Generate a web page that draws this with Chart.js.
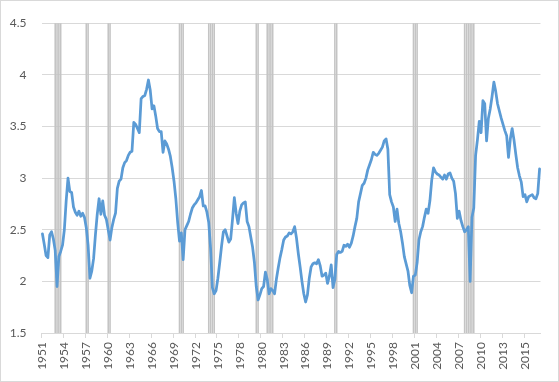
<!DOCTYPE html>
<html>
<head>
<meta charset="utf-8">
<script src="https://cdn.jsdelivr.net/npm/chart.js@4/dist/chart.umd.min.js"></script>
<style>
  html, body { margin: 0; padding: 0; background: #ffffff; }
  #wrap { width: 559px; height: 382px; box-sizing: border-box; border: 1px solid #d9d9d9; background: #fff; }
  canvas { display: block; }
</style>
</head>
<body>
<div id="wrap"><canvas id="c" width="557" height="380"></canvas></div>
<script>
// Tick labels shown every 12 categories
const tickYears = [1951, 1954, 1957, 1960, 1963, 1966, 1969, 1972, 1975, 1978, 1980,
  1983, 1986, 1989, 1992, 1995, 1998, 2001, 2004, 2007, 2010, 2013, 2015];

// Series values (quarterly)
const seriesValues = [
  2.46, 2.36, 2.25, 2.23, 2.45, 2.48, 2.41, 2.30, 1.95, 2.24,
  2.29, 2.35, 2.50, 2.78, 3.00, 2.87, 2.86, 2.72, 2.67, 2.64,
  2.68, 2.63, 2.66, 2.62, 2.52, 2.35, 2.03, 2.10, 2.22, 2.45,
  2.65, 2.80, 2.65, 2.78, 2.64, 2.60, 2.50, 2.40, 2.52, 2.60,
  2.66, 2.90, 2.97, 2.99, 3.10, 3.15, 3.17, 3.22, 3.25, 3.26,
  3.54, 3.52, 3.48, 3.44, 3.77, 3.79, 3.80, 3.86, 3.95, 3.85,
  3.67, 3.70, 3.60, 3.48, 3.45, 3.45, 3.25, 3.36, 3.33, 3.28,
  3.21, 3.10, 2.97, 2.80, 2.57, 2.39, 2.47, 2.21, 2.50, 2.54,
  2.58, 2.65, 2.71, 2.74, 2.76, 2.79, 2.82, 2.88, 2.73, 2.73,
  2.67, 2.57, 2.32, 1.94, 1.88, 1.91, 2.03, 2.18, 2.34, 2.48,
  2.50, 2.44, 2.38, 2.41, 2.60, 2.81, 2.66, 2.56, 2.68, 2.74,
  2.76, 2.77, 2.58, 2.53, 2.43, 2.33, 2.18, 1.95, 1.82, 1.87,
  1.93, 1.95, 2.09, 2.02, 1.88, 1.93, 1.91, 1.88, 2.02, 2.13,
  2.23, 2.31, 2.40, 2.43, 2.44, 2.47, 2.46, 2.48, 2.53, 2.42,
  2.27, 2.14, 2.00, 1.88, 1.80, 1.87, 2.03, 2.14, 2.17, 2.18,
  2.17, 2.21, 2.15, 2.05, 2.06, 2.08, 1.98, 2.05, 2.16, 1.94,
  2.02, 2.26, 2.29, 2.28, 2.29, 2.35, 2.34, 2.36, 2.33, 2.37,
  2.44, 2.53, 2.61, 2.77, 2.85, 2.93, 2.95, 3.00, 3.08, 3.13,
  3.18, 3.25, 3.23, 3.22, 3.24, 3.27, 3.30, 3.36, 3.38, 3.28,
  2.84, 2.77, 2.72, 2.58, 2.70, 2.56, 2.48, 2.37, 2.24, 2.17,
  2.10, 1.96, 1.89, 2.05, 2.06, 2.18, 2.40, 2.48, 2.53, 2.62,
  2.70, 2.66, 2.78, 2.98, 3.10, 3.06, 3.04, 3.03, 3.01, 2.99,
  3.03, 2.99, 3.04, 3.05, 3.00, 2.97, 2.85, 2.61, 2.68, 2.59,
  2.53, 2.48, 2.50, 2.53, 2.00, 2.62, 2.71, 3.22, 3.37, 3.55,
  3.44, 3.75, 3.72, 3.36, 3.58, 3.67, 3.79, 3.93, 3.84, 3.72,
  3.65, 3.58, 3.52, 3.46, 3.41, 3.20, 3.38, 3.48, 3.37, 3.23,
  3.10, 3.02, 2.96, 2.82, 2.84, 2.77, 2.82, 2.83, 2.84, 2.81,
  2.80, 2.85, 3.09
];

// Category positions (quarter index) marked as recession quarters
const recessionQuarters = [
  7, 8, 9, 10,
  24, 25,
  36, 37,
  75, 76, 77,
  91, 92, 93, 94,
  117, 118,
  123, 124, 125, 126,
  160, 161,
  203, 204, 205,
  231, 232, 233, 234, 235, 236
];
const recessionTop = 4.5;

// Derived tables for the library
const categories = seriesValues.map((_, i) => String(tickYears[Math.floor(i / 12)]));
const recSet = new Set(recessionQuarters);
const recessionData = seriesValues.map((_, i) => recSet.has(i) ? recessionTop : null);

const FONT = { family: 'Lato, "Liberation Sans", sans-serif', size: 12 };
const TXT = '#595959';
const GRID = '#d9d9d9';

new Chart(document.getElementById('c'), {
  data: {
    labels: categories,
    datasets: [
      {
        type: 'line',
        data: seriesValues,
        borderColor: '#5B9BD5',
        borderWidth: 2.75,
        pointRadius: 0,
        tension: 0,
        fill: false,
        order: 0,
        borderJoinStyle: 'round',
        borderCapStyle: 'round'
      },
      {
        type: 'bar',
        data: recessionData,
        backgroundColor: '#c4c4c4',
        borderWidth: 0,
        barThickness: 0.9,
        order: 1
      }
    ]
  },
  options: {
    responsive: false,
    animation: false,
    devicePixelRatio: 1,
    layout: { padding: { left: 0, top: 15, right: 15, bottom: 0 } },
    plugins: { legend: { display: false }, tooltip: { enabled: false } },
    scales: {
      x: {
        type: 'category',
        offset: true,
        grid: {
          offset: true,
          drawOnChartArea: false,
          drawTicks: true,
          tickLength: 5,
          color: ctx => (ctx.index !== undefined && ctx.index % 12 === 0) ? GRID : 'rgba(0,0,0,0)',
          tickColor: ctx => (ctx.index !== undefined && ctx.index % 12 === 0) ? GRID : 'rgba(0,0,0,0)'
        },
        border: { display: true, color: GRID },
        ticks: {
          autoSkip: false,
          minRotation: 90,
          maxRotation: 90,
          padding: 4,
          color: TXT,
          font: FONT,
          callback: (v, i) => (i % 12 === 0 && tickYears[i / 12] !== undefined) ? String(tickYears[i / 12]) : ''
        },
        afterFit: s => { s.height = 48; }
      },
      y: {
        min: 1.5,
        max: 4.5,
        grid: { color: GRID, drawTicks: false },
        border: { display: false },
        ticks: {
          stepSize: 0.5, color: TXT, font: FONT, padding: 15,
          callback: v => String(Math.round(v * 10) / 10)
        },
        afterFit: s => { s.width = 40.5; }
      }
    }
  }
});
</script>
</body>
</html>
